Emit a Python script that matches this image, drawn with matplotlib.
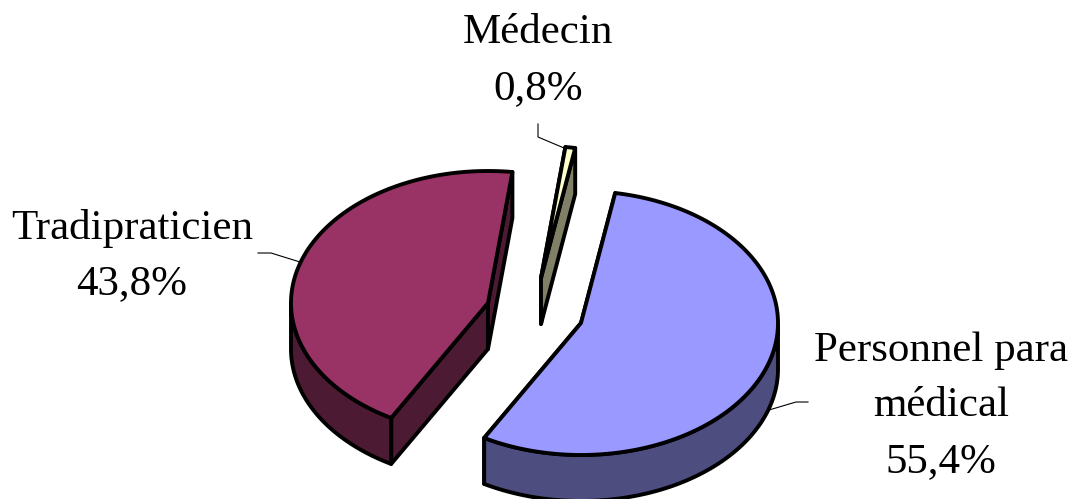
import numpy as np
import matplotlib
matplotlib.use("Agg")
import matplotlib.pyplot as plt
from matplotlib.patches import Polygon

labels = ["Personnel para\nmédical", "Tradipraticien", "Médecin"]
shares = [55.4, 43.8, 0.8]
value_text = ["55,4%", "43,8%", "0,8%"]

top_colors = ["#9999FF", "#993366", "#FFFFCC"]
side_colors = ["#4D4D80", "#4D1A33", "#808066"]

# pixel position of each exploded slice
centers = [(581, 323), (488, 303), (541, 278)]
text_pos = [(941, 406), (132, 256), (538, 61)]
leaders = [[(808, 402), (796, 402), (769, 410)],
           [(258, 253), (271, 253), (300, 262)],
           [(538, 124), (538, 137), (564, 148)]]

A = 197
B = 132
DEPTH = 46
LW = 2.8
START = 10.0  # degrees clockwise from the top

fig = plt.figure(figsize=(10.7, 4.99), dpi=100)
ax = fig.add_axes([0, 0, 1, 1])
ax.set_xlim(0, 1070)
ax.set_ylim(499, 0)
ax.axis("off")


def arc(center, t0, t1, dy=0):
    t = np.radians(np.linspace(t0, t1, 200))
    return np.column_stack([center[0] + A * np.sin(t), center[1] - B * np.cos(t) + dy])


def face(pts, color, z):
    ax.add_patch(Polygon(pts, closed=True, facecolor=color, edgecolor="black",
                         linewidth=LW, joinstyle="round", zorder=z))


angle = START
for i, share in enumerate(shares):
    t0, t1 = angle, angle + share * 3.6
    angle = t1
    c = np.array(centers[i], dtype=float)
    rim = arc(c, t0, t1)
    z = 2 + i

    # cut faces, back one first
    p0, p1 = rim[0], rim[-1]
    down = np.array([0, DEPTH])
    face([c, p0, p0 + down, c + down], side_colors[i], z)
    face([c, p1, p1 + down, c + down], side_colors[i], z)

    # outer wall only where the rim faces the viewer
    lo, hi = max(t0, 90), min(t1, 270)
    if lo < hi:
        wall_top = arc(c, lo, hi)
        wall_bot = arc(c, lo, hi, DEPTH)
        face(np.vstack([wall_top, wall_bot[::-1]]), side_colors[i], z)

    face(np.vstack([[c], rim]), top_colors[i], z + 0.5)

for i in range(len(labels)):
    x, y = text_pos[i]
    ax.text(x, y, labels[i] + "\n" + value_text[i], ha="center", va="center",
            fontsize=31, family="Liberation Serif", color="black", linespacing=1.58)
    xs, ys = zip(*leaders[i])
    ax.plot(xs, ys, color="black", lw=0.8, zorder=1)

fig.savefig("out.png", dpi=100)
